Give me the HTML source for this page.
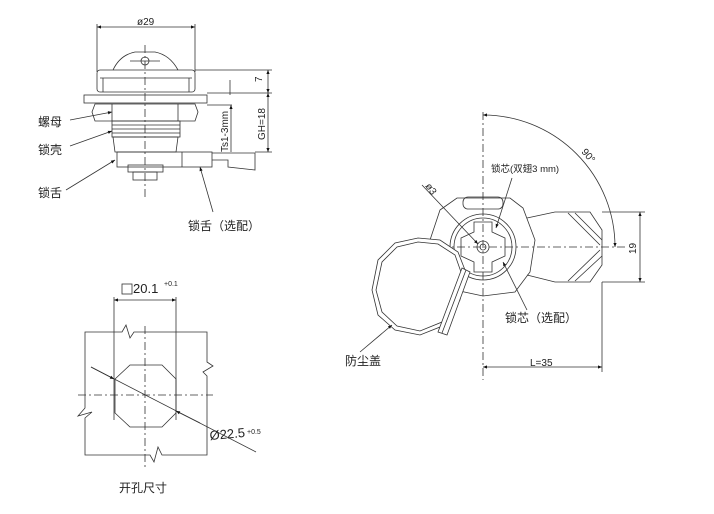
<!DOCTYPE html>
<html><head><meta charset="utf-8"><style>
html,body{margin:0;padding:0;background:#fff;}
svg{display:block;}
text{font-family:"Liberation Sans","Noto Sans CJK SC",sans-serif;fill:#222;}
</style></head><body>
<svg width="714" height="514" viewBox="0 0 714 514" xmlns="http://www.w3.org/2000/svg">
<defs>
<marker id="a" viewBox="0 0 10 10" refX="10" refY="5" markerWidth="7" markerHeight="5" orient="auto-start-reverse"><path d="M0,1 L10,5 L0,9z" fill="#111"/></marker>
</defs>
<g fill="none" stroke="#333" stroke-width="0.8">
<!-- TOP-LEFT VIEW -->
<line x1="97" y1="27" x2="195" y2="27" marker-start="url(#a)" marker-end="url(#a)"/>
<line x1="97" y1="24" x2="97" y2="72"/><line x1="195" y1="24" x2="195" y2="72"/>
<line x1="145" y1="45" x2="145" y2="200" stroke-dasharray="8,3,2,3"/>
<path d="M113,70 Q120,55 135,52 L155,52 Q170,55 178,70"/>
<circle cx="145" cy="61" r="4"/><line x1="130" y1="61" x2="160" y2="61"/>
<rect x="97" y="70" width="98" height="22" rx="3"/>
<line x1="100" y1="78" x2="192" y2="78"/><line x1="103" y1="78" x2="103" y2="92"/><line x1="189" y1="78" x2="189" y2="92"/>
<rect x="84" y="95" width="123" height="8"/>
<path d="M95,104 L195,104 L198,112 L195,121 L95,121 L92,112z"/>
<line x1="112" y1="104" x2="112" y2="121"/><line x1="178" y1="104" x2="178" y2="121"/>
<rect x="112" y="121" width="68" height="16"/>
<path d="M112,125 L180,125 M112,129 L180,129 M112,133 L180,133"/>
<path d="M113,137 L178,137 L176,152 L115,152z"/>
<rect x="117" y="152" width="95" height="15"/>
<line x1="182" y1="152" x2="182" y2="167"/>
<path d="M212,153 L255,153 L255,170 L228,167 L228,160 L212,160"/>
<rect x="128" y="165" width="35" height="7"/><rect x="133" y="172" width="24" height="8"/>
<!-- dims right -->
<line x1="195" y1="70" x2="272" y2="70"/><line x1="230" y1="80" x2="230" y2="95"/>
<line x1="207" y1="93" x2="272" y2="93"/><line x1="255" y1="152" x2="272" y2="152"/>
<line x1="268" y1="70" x2="268" y2="93" marker-start="url(#a)" marker-end="url(#a)"/>
<line x1="268" y1="93" x2="268" y2="152" marker-start="url(#a)" marker-end="url(#a)"/>
<line x1="231" y1="105" x2="231" y2="152" marker-start="url(#a)"/>
<line x1="207" y1="105" x2="232" y2="105"/>
<!-- leaders -->
<line x1="70" y1="120" x2="112" y2="112" marker-end="url(#a)"/>
<line x1="70" y1="146" x2="112" y2="131" marker-end="url(#a)"/>
<line x1="66" y1="190" x2="115" y2="160" marker-end="url(#a)"/>
<line x1="213" y1="212" x2="200" y2="167" marker-end="url(#a)"/>

<!-- RIGHT VIEW -->
<line x1="483" y1="112" x2="483" y2="380" stroke-dasharray="8,3,2,3"/>
<line x1="425" y1="247" x2="625" y2="247" stroke-dasharray="8,3,2,3"/>
<path d="M483,115 A132,132 0 0 1 615,247" marker-start="url(#a)" marker-end="url(#a)"/>
<path d="M527,218 L555,212 L590,212 L602,230 L602,265 L590,282 L555,282 L527,275"/>
<path d="M568,213 L600,245 M568,281 L600,250 M575,213 L602,240 M575,281 L602,256"/>
<path d="M440,210 L457,198 L510,198 L523,208 L535,240 L530,272 L515,292 L483,296 L455,290 L433,270 L430,240z"/>
<rect x="463" y="197" width="40" height="12" rx="5"/>
<circle cx="483" cy="247" r="33"/><circle cx="483" cy="247" r="29"/>
<path d="M474,222 L492,222 L492,232 L505,238 L505,256 L492,262 L492,272 L474,272 L474,262 L461,256 L461,238 L474,232z"/>
<circle cx="483" cy="247" r="6"/><circle cx="483" cy="247" r="3"/>
<line x1="602" y1="212" x2="645" y2="212"/><line x1="602" y1="282" x2="645" y2="282"/>
<line x1="640" y1="212" x2="640" y2="282" marker-start="url(#a)" marker-end="url(#a)"/>
<line x1="602" y1="282" x2="602" y2="372"/>
<line x1="483" y1="367" x2="602" y2="367" marker-start="url(#a)" marker-end="url(#a)"/>
<!-- dust cover -->
<path d="M418,238 L440,240 L458,252 L465,270 L460,300 L445,325 L420,335 L395,330 L378,315 L372,290 L378,260 L395,243z" fill="#fff"/>
<path d="M418,242 L438,244 L455,255 L461,272 L456,300 L442,322 L420,331 L397,326 L382,312 L376,290 L382,262 L397,247z"/>
<path d="M462,268 L470,272 L447,335 L438,332z" fill="#fff"/>
<line x1="466" y1="270" x2="442" y2="333"/>
<!-- leaders right -->
<line x1="422" y1="185" x2="478" y2="244" marker-end="url(#a)"/>
<line x1="512" y1="178" x2="496" y2="228" marker-end="url(#a)"/>
<line x1="527" y1="310" x2="503" y2="262" marker-end="url(#a)"/>
<line x1="360" y1="352" x2="392" y2="325" marker-end="url(#a)"/>

<!-- BOTTOM VIEW -->
<path d="M85,332 L122,332 L126,325 L130,338 L134,332 L207,332 L207,362 L213,366 L203,372 L207,376 L207,455 L162,455 L158,447 L154,462 L150,455 L85,455 L85,418 L92,412 L78,416 L85,408z"/>
<path d="M130,365 L162,365 L176,379 L176,413 L162,427 L130,427 L115,413 L115,379z"/>
<line x1="145" y1="326" x2="145" y2="468" stroke-dasharray="8,3,2,3"/>
<line x1="78" y1="395" x2="213" y2="395" stroke-dasharray="8,3,2,3"/>
<line x1="114" y1="297" x2="114" y2="420"/><line x1="176" y1="297" x2="176" y2="420"/>
<line x1="114" y1="300" x2="176" y2="300" marker-start="url(#a)" marker-end="url(#a)"/>
<line x1="91" y1="367" x2="256" y2="452"/>
<line x1="91" y1="367" x2="114" y2="379" marker-end="url(#a)"/>
<line x1="200" y1="423" x2="176" y2="411" marker-end="url(#a)"/>
<rect x="122" y="284" width="10" height="10"/>
</g>
<g font-size="10">
<text x="137" y="25">ø29</text>
<text x="0" y="0" transform="translate(262,82) rotate(-90)">7</text>
<text x="0" y="0" transform="translate(265,140) rotate(-90)">GH=18</text>
<text x="0" y="0" transform="translate(228,152) rotate(-90)">Ts1-3mm</text>
<text x="0" y="0" transform="translate(581,152) rotate(50)">90°</text>
<text x="0" y="0" transform="translate(636,254) rotate(-90)">19</text>
<text x="530" y="366">L=35</text>
<text x="491" y="172" font-size="9.5">锁芯(双翅3 mm)</text>
<text x="0" y="0" transform="translate(425,186) rotate(55)">ø3</text>
</g>
<g font-size="12">
<text x="38" y="126">螺母</text>
<text x="38" y="154">锁壳</text>
<text x="38" y="197">锁舌</text>
<text x="188" y="230">锁舌（选配）</text>
<text x="505" y="322">锁芯（选配）</text>
<text x="345" y="365">防尘盖</text>
<text x="133" y="293" font-size="13">20.1</text>
<text x="164" y="286" font-size="7">+0.1</text>
<text x="210" y="440" font-size="13" transform="rotate(-5 210 440)">Ø22.5</text>
<text x="247" y="434" font-size="7">+0.5</text>
<text x="119" y="492">开孔尺寸</text>
</g>
</svg>
</body></html>
